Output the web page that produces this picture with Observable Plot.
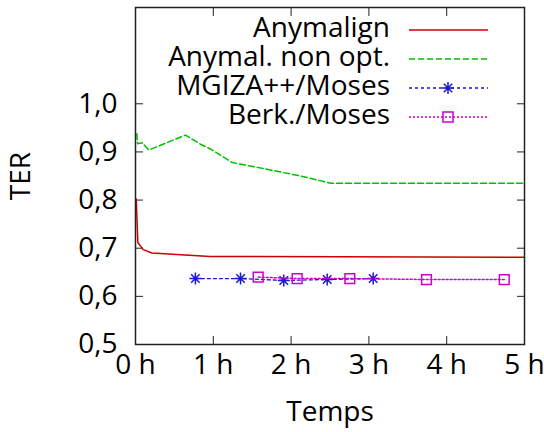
<!DOCTYPE html>
<html><head><meta charset="utf-8">
<script src="https://cdn.jsdelivr.net/npm/d3@7"></script>
<script src="https://cdn.jsdelivr.net/npm/@observablehq/plot@0.6"></script>
<style>body{margin:0;background:#fff} #chart svg{font-family:"Open Sans";}</style>
</head><body><div id="chart"></div>
<script>
// ---- data ----
const seriesNames = ["Anymalign", "Anymal. non opt.", "MGIZA++/Moses", "Berk./Moses"];
const anymalignT = [0.01, 0.03, 0.10, 0.21, 0.96, 5.0];
const anymalignV = [0.802, 0.712, 0.697, 0.690, 0.683, 0.681];
const nonOptT = [0.017, 0.026, 0.086, 0.171, 0.643, 0.835, 0.964, 1.243, 1.69, 2.12, 2.51, 5.0];
const nonOptV = [0.938, 0.917, 0.919, 0.904, 0.935, 0.916, 0.906, 0.878, 0.864, 0.850, 0.835, 0.835];
const mgizaT = [0.77, 1.35, 1.906, 2.464, 3.055];
const mgizaV = [0.637, 0.637, 0.633, 0.635, 0.637];
const berkT = [1.577, 2.078, 2.755, 3.74, 4.74];
const berkV = [0.640, 0.637, 0.637, 0.635, 0.635];
const xTicks = [0, 1, 2, 3, 4, 5];
const xTickLabels = ["0 h", "1 h", "2 h", "3 h", "4 h", "5 h"];
const yTicks = [0.5, 0.6, 0.7, 0.8, 0.9, 1.0];
const yTickLabels = ["0,5", "0,6", "0,7", "0,8", "0,9", "1,0"];

// ---- styles ----
const colors = ["#cc0000", "#00c000", "#1a1acc", "#cc00cc"];
const dashes = [null, "6,3", "3,3", "2,2"];

const rows = (t, v) => t.map((x, i) => ({t: x, v: v[i]}));
const star8 = {
  draw(ctx, size) {
    const r = Math.sqrt(size / Math.PI);
    const d = r * Math.SQRT1_2;
    ctx.moveTo(-r, 0); ctx.lineTo(r, 0);
    ctx.moveTo(0, -r); ctx.lineTo(0, r);
    ctx.moveTo(-d, -d); ctx.lineTo(d, d);
    ctx.moveTo(-d, d); ctx.lineTo(d, -d);
  }
};
const xf = d => xTickLabels[xTicks.indexOf(d)];
const yf = d => yTickLabels[yTicks.indexOf(d)];
const blank = () => "";

const plot = Plot.plot({
  width: 544, height: 432,
  marginLeft: 135, marginRight: 20, marginTop: 7, marginBottom: 88,
  style: {fontFamily: "Open Sans", fontSize: "28px", color: "#000", background: "#fff"},
  x: {domain: [0, 5]},
  y: {domain: [0.5, 1.2]},
  marks: [
    Plot.axisX({ticks: xTicks, tickFormat: xf, tickSize: -8, tickPadding: 18, label: "Temps", labelAnchor: "center", labelArrow: "none", labelOffset: 76, stroke: "#222"}),
    Plot.axisX({anchor: "top", ticks: xTicks, tickFormat: blank, tickSize: -8, label: null, stroke: "#222"}),
    Plot.axisY({ticks: yTicks, tickFormat: yf, tickSize: -8, tickPadding: 26, label: "TER", labelAnchor: "center", labelArrow: "none", labelOffset: 125, stroke: "#222"}),
    Plot.axisY({anchor: "right", ticks: yTicks, tickFormat: blank, tickSize: -8, label: null, stroke: "#222"}),
    Plot.line(rows(anymalignT, anymalignV), {x: "t", y: "v", stroke: colors[0], strokeWidth: 1.5}),
    Plot.line(rows(nonOptT, nonOptV), {x: "t", y: "v", stroke: colors[1], strokeWidth: 1.5, strokeDasharray: dashes[1]}),
    Plot.line(rows(mgizaT, mgizaV), {x: "t", y: "v", stroke: colors[2], strokeWidth: 1.3, strokeDasharray: dashes[2]}),
    Plot.dot(rows(mgizaT, mgizaV), {x: "t", y: "v", stroke: colors[2], symbol: star8, r: 6, strokeWidth: 1.5}),
    Plot.line(rows(berkT, berkV), {x: "t", y: "v", stroke: colors[3], strokeWidth: 1.5, strokeDasharray: dashes[3]}),
    Plot.dot(rows(berkT, berkV), {x: "t", y: "v", stroke: colors[3], symbol: "square", r: 5.5, strokeWidth: 1.5, fill: "none"}),
    Plot.frame({stroke: "#222", strokeWidth: 1.5})
  ]
});
document.getElementById("chart").appendChild(plot);

// ---- legend (layout inside the plot's svg) ----
const svg = d3.select(plot);
const lg = svg.append("g").attr("class", "legend");
seriesNames.forEach((name, i) => {
  const yb = 37 + 29 * i, yl = 30 + 29 * i;
  lg.append("text").attr("x", 390).attr("y", yb).attr("text-anchor", "end")
    .attr("font-size", 28).attr("fill", "#000").text(name);
  lg.append("line").attr("x1", 409).attr("x2", 488).attr("y1", yl).attr("y2", yl)
    .attr("stroke", colors[i]).attr("stroke-width", i === 2 ? 1.3 : 1.5)
    .attr("stroke-dasharray", dashes[i]);
  if (i === 2) {
    const r = 6, d = r * Math.SQRT1_2;
    lg.append("path").attr("transform", `translate(448,${yl})`)
      .attr("d", `M${-r},0L${r},0M0,${-r}L0,${r}M${-d},${-d}L${d},${d}M${-d},${d}L${d},${-d}`)
      .attr("stroke", colors[2]).attr("stroke-width", 1.5).attr("fill", "none");
  }
  if (i === 3) {
    lg.append("rect").attr("x", 448 - 5).attr("y", yl - 5).attr("width", 10).attr("height", 10)
      .attr("stroke", colors[3]).attr("stroke-width", 1.5).attr("fill", "none");
  }
});
</script>
</body></html>
